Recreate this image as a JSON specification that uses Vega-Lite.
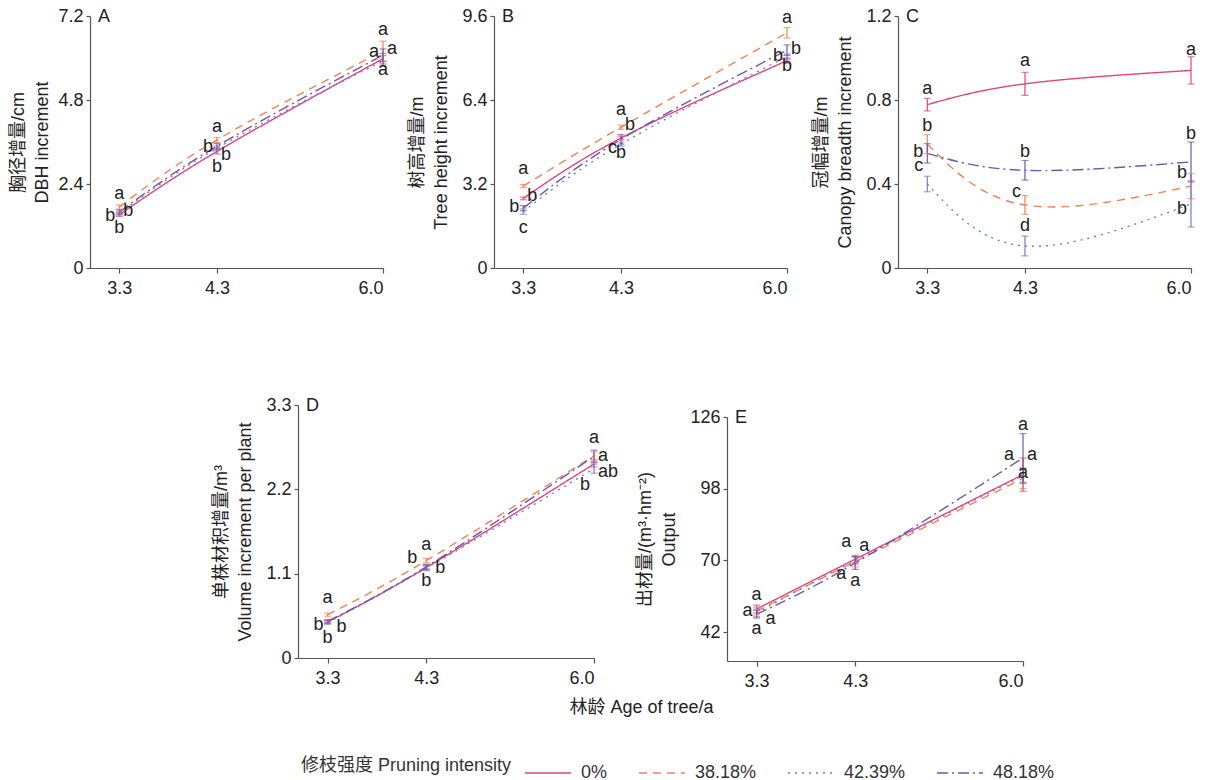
{
"$schema":"https://vega.github.io/schema/vega-lite/v6.json",
"padding":{"left":9,"top":7,"right":5,"bottom":0},
"background":"white",
"config":{
 "view":{"stroke":null},
 "axis":{"domainColor":"#555","tickColor":"#555","domainWidth":1.2,"tickWidth":1.2,"tickSize":4,"labelFont":"Liberation Sans","labelFontSize":18,"labelColor":"#222","labelPadding":3,"titleFont":"Liberation Sans, Noto Sans CJK SC","titleFontSize":18,"titleFontWeight":"normal","titleColor":"#222","grid":false,"titlePadding":11,"titleLineHeight":24},
 "axisX":{"labelPadding":6,"tickSize":5},
 "title":{"anchor":"start","frame":"group","offset":-19,"dx":8,"baseline":"middle","fontSize":18,"fontWeight":"normal","font":"Liberation Sans","color":"#222"},
 "text":{"font":"Liberation Sans","fontSize":18,"color":"#222","baseline":"middle"},
 "line":{"interpolate":"natural","strokeWidth":1.4},
 "rule":{"strokeWidth":1.2},
 "tick":{"orient":"horizontal","size":7,"thickness":1.2}
},
"datasets":{
 "pts":[
  {"panel":"A","age":3.3,"group":"0%","mean":1.52,"lo":1.47,"hi":1.57},
  {"panel":"A","age":3.3,"group":"38.18%","mean":1.74,"lo":1.68,"hi":1.80},
  {"panel":"A","age":3.3,"group":"42.39%","mean":1.56,"lo":1.51,"hi":1.61},
  {"panel":"A","age":3.3,"group":"48.18%","mean":1.60,"lo":1.54,"hi":1.66},
  {"panel":"A","age":4.3,"group":"0%","mean":3.33,"lo":3.26,"hi":3.40},
  {"panel":"A","age":4.3,"group":"38.18%","mean":3.66,"lo":3.59,"hi":3.73},
  {"panel":"A","age":4.3,"group":"42.39%","mean":3.42,"lo":3.35,"hi":3.49},
  {"panel":"A","age":4.3,"group":"48.18%","mean":3.48,"lo":3.40,"hi":3.56},
  {"panel":"A","age":6.0,"group":"0%","mean":5.98,"lo":5.83,"hi":6.13},
  {"panel":"A","age":6.0,"group":"38.18%","mean":6.20,"lo":5.92,"hi":6.48},
  {"panel":"A","age":6.0,"group":"42.39%","mean":5.92,"lo":5.77,"hi":6.07},
  {"panel":"A","age":6.0,"group":"48.18%","mean":6.08,"lo":5.90,"hi":6.26},
  {"panel":"B","age":3.3,"group":"0%","mean":2.65,"lo":2.60,"hi":2.70},
  {"panel":"B","age":3.3,"group":"38.18%","mean":3.12,"lo":3.06,"hi":3.18},
  {"panel":"B","age":3.3,"group":"42.39%","mean":2.15,"lo":2.05,"hi":2.25},
  {"panel":"B","age":3.3,"group":"48.18%","mean":2.28,"lo":2.18,"hi":2.38},
  {"panel":"B","age":4.3,"group":"0%","mean":4.95,"lo":4.88,"hi":5.02},
  {"panel":"B","age":4.3,"group":"38.18%","mean":5.36,"lo":5.28,"hi":5.44},
  {"panel":"B","age":4.3,"group":"42.39%","mean":4.72,"lo":4.64,"hi":4.80},
  {"panel":"B","age":4.3,"group":"48.18%","mean":4.90,"lo":4.72,"hi":5.08},
  {"panel":"B","age":6.0,"group":"0%","mean":7.90,"lo":7.80,"hi":8.00},
  {"panel":"B","age":6.0,"group":"38.18%","mean":8.96,"lo":8.76,"hi":9.16},
  {"panel":"B","age":6.0,"group":"42.39%","mean":8.05,"lo":7.95,"hi":8.15},
  {"panel":"B","age":6.0,"group":"48.18%","mean":8.30,"lo":8.10,"hi":8.50},
  {"panel":"C","age":3.3,"group":"0%","mean":0.778,"lo":0.748,"hi":0.808},
  {"panel":"C","age":3.3,"group":"38.18%","mean":0.59,"lo":0.545,"hi":0.635},
  {"panel":"C","age":3.3,"group":"42.39%","mean":0.40,"lo":0.363,"hi":0.437},
  {"panel":"C","age":3.3,"group":"48.18%","mean":0.546,"lo":0.50,"hi":0.592},
  {"panel":"C","age":4.3,"group":"0%","mean":0.877,"lo":0.822,"hi":0.932},
  {"panel":"C","age":4.3,"group":"38.18%","mean":0.30,"lo":0.255,"hi":0.345},
  {"panel":"C","age":4.3,"group":"42.39%","mean":0.105,"lo":0.058,"hi":0.152},
  {"panel":"C","age":4.3,"group":"48.18%","mean":0.465,"lo":0.418,"hi":0.512},
  {"panel":"C","age":6.0,"group":"0%","mean":0.941,"lo":0.876,"hi":1.006},
  {"panel":"C","age":6.0,"group":"38.18%","mean":0.39,"lo":0.33,"hi":0.45},
  {"panel":"C","age":6.0,"group":"42.39%","mean":0.305,"lo":0.195,"hi":0.415},
  {"panel":"C","age":6.0,"group":"48.18%","mean":0.505,"lo":0.41,"hi":0.60},
  {"panel":"D","age":3.3,"group":"0%","mean":0.47,"lo":0.45,"hi":0.49},
  {"panel":"D","age":3.3,"group":"38.18%","mean":0.565,"lo":0.545,"hi":0.585},
  {"panel":"D","age":3.3,"group":"42.39%","mean":0.46,"lo":0.44,"hi":0.48},
  {"panel":"D","age":3.3,"group":"48.18%","mean":0.48,"lo":0.46,"hi":0.50},
  {"panel":"D","age":4.3,"group":"0%","mean":1.18,"lo":1.15,"hi":1.21},
  {"panel":"D","age":4.3,"group":"38.18%","mean":1.27,"lo":1.24,"hi":1.30},
  {"panel":"D","age":4.3,"group":"42.39%","mean":1.17,"lo":1.14,"hi":1.20},
  {"panel":"D","age":4.3,"group":"48.18%","mean":1.19,"lo":1.16,"hi":1.22},
  {"panel":"D","age":6.0,"group":"0%","mean":2.53,"lo":2.49,"hi":2.57},
  {"panel":"D","age":6.0,"group":"38.18%","mean":2.64,"lo":2.59,"hi":2.69},
  {"panel":"D","age":6.0,"group":"42.39%","mean":2.47,"lo":2.41,"hi":2.53},
  {"panel":"D","age":6.0,"group":"48.18%","mean":2.63,"lo":2.55,"hi":2.71},
  {"panel":"E","age":3.3,"group":"0%","mean":51.0,"lo":49.5,"hi":52.5},
  {"panel":"E","age":3.3,"group":"38.18%","mean":50.2,"lo":48.7,"hi":51.7},
  {"panel":"E","age":3.3,"group":"42.39%","mean":49.5,"lo":48.0,"hi":51.0},
  {"panel":"E","age":3.3,"group":"48.18%","mean":49.0,"lo":47.5,"hi":50.5},
  {"panel":"E","age":4.3,"group":"0%","mean":70.5,"lo":69.0,"hi":72.0},
  {"panel":"E","age":4.3,"group":"38.18%","mean":69.5,"lo":67.5,"hi":71.5},
  {"panel":"E","age":4.3,"group":"42.39%","mean":70.0,"lo":68.5,"hi":71.5},
  {"panel":"E","age":4.3,"group":"48.18%","mean":69.0,"lo":66.5,"hi":71.5},
  {"panel":"E","age":6.0,"group":"0%","mean":103.5,"lo":97.0,"hi":110.0},
  {"panel":"E","age":6.0,"group":"38.18%","mean":102.0,"lo":98.0,"hi":106.0},
  {"panel":"E","age":6.0,"group":"42.39%","mean":103.0,"lo":100.0,"hi":106.0},
  {"panel":"E","age":6.0,"group":"48.18%","mean":110.0,"lo":100.5,"hi":119.5}
 ],
 "lbl":[
  {"panel":"A","age":3.3,"label":"a","ly":2.11,"side":"c"},
  {"panel":"A","age":3.3,"label":"b","ly":1.49,"side":"l"},
  {"panel":"A","age":3.3,"label":"b","ly":1.62,"side":"r"},
  {"panel":"A","age":3.3,"label":"b","ly":1.14,"side":"c"},
  {"panel":"A","age":4.3,"label":"a","ly":4.04,"side":"c"},
  {"panel":"A","age":4.3,"label":"b","ly":3.47,"side":"l"},
  {"panel":"A","age":4.3,"label":"b","ly":3.23,"side":"r"},
  {"panel":"A","age":4.3,"label":"b","ly":2.90,"side":"c"},
  {"panel":"A","age":6.0,"label":"a","ly":6.80,"side":"c"},
  {"panel":"A","age":6.0,"label":"a","ly":6.18,"side":"l"},
  {"panel":"A","age":6.0,"label":"a","ly":6.25,"side":"r"},
  {"panel":"A","age":6.0,"label":"a","ly":5.66,"side":"c"},
  {"panel":"B","age":3.3,"label":"a","ly":3.76,"side":"c"},
  {"panel":"B","age":3.3,"label":"b","ly":2.73,"side":"r"},
  {"panel":"B","age":3.3,"label":"b","ly":2.31,"side":"l"},
  {"panel":"B","age":3.3,"label":"c","ly":1.54,"side":"c"},
  {"panel":"B","age":4.3,"label":"a","ly":6.01,"side":"c"},
  {"panel":"B","age":4.3,"label":"b","ly":5.43,"side":"r"},
  {"panel":"B","age":4.3,"label":"c","ly":4.59,"side":"l"},
  {"panel":"B","age":4.3,"label":"b","ly":4.40,"side":"c"},
  {"panel":"B","age":6.0,"label":"a","ly":9.53,"side":"c"},
  {"panel":"B","age":6.0,"label":"b","ly":8.34,"side":"r"},
  {"panel":"B","age":6.0,"label":"b","ly":8.06,"side":"l"},
  {"panel":"B","age":6.0,"label":"b","ly":7.68,"side":"c"},
  {"panel":"C","age":3.3,"label":"a","ly":0.854,"side":"c"},
  {"panel":"C","age":3.3,"label":"b","ly":0.678,"side":"c"},
  {"panel":"C","age":3.3,"label":"b","ly":0.554,"side":"l"},
  {"panel":"C","age":3.3,"label":"c","ly":0.487,"side":"l"},
  {"panel":"C","age":4.3,"label":"a","ly":0.987,"side":"c"},
  {"panel":"C","age":4.3,"label":"b","ly":0.554,"side":"c"},
  {"panel":"C","age":4.3,"label":"c","ly":0.363,"side":"l"},
  {"panel":"C","age":4.3,"label":"d","ly":0.201,"side":"c"},
  {"panel":"C","age":6.0,"label":"a","ly":1.04,"side":"c"},
  {"panel":"C","age":6.0,"label":"b","ly":0.64,"side":"c"},
  {"panel":"C","age":6.0,"label":"b","ly":0.454,"side":"l"},
  {"panel":"C","age":6.0,"label":"b","ly":0.282,"side":"l"},
  {"panel":"D","age":3.3,"label":"a","ly":0.78,"side":"c"},
  {"panel":"D","age":3.3,"label":"b","ly":0.43,"side":"l"},
  {"panel":"D","age":3.3,"label":"b","ly":0.40,"side":"R"},
  {"panel":"D","age":3.3,"label":"b","ly":0.26,"side":"c"},
  {"panel":"D","age":4.3,"label":"a","ly":1.48,"side":"c"},
  {"panel":"D","age":4.3,"label":"b","ly":1.30,"side":"L"},
  {"panel":"D","age":4.3,"label":"b","ly":1.17,"side":"R"},
  {"panel":"D","age":4.3,"label":"b","ly":1.01,"side":"c"},
  {"panel":"D","age":6.0,"label":"a","ly":2.87,"side":"c"},
  {"panel":"D","age":6.0,"label":"a","ly":2.63,"side":"r"},
  {"panel":"D","age":6.0,"label":"ab","ly":2.43,"side":"r"},
  {"panel":"D","age":6.0,"label":"b","ly":2.26,"side":"l"},
  {"panel":"E","age":3.3,"label":"a","ly":56.3,"side":"c"},
  {"panel":"E","age":3.3,"label":"a","ly":50.2,"side":"l"},
  {"panel":"E","age":3.3,"label":"a","ly":47.0,"side":"R"},
  {"panel":"E","age":3.3,"label":"a","ly":43.3,"side":"c"},
  {"panel":"E","age":4.3,"label":"a","ly":77.2,"side":"l"},
  {"panel":"E","age":4.3,"label":"a","ly":75.6,"side":"r"},
  {"panel":"E","age":4.3,"label":"a","ly":64.5,"side":"L"},
  {"panel":"E","age":4.3,"label":"a","ly":61.8,"side":"c"},
  {"panel":"E","age":6.0,"label":"a","ly":122.8,"side":"c"},
  {"panel":"E","age":6.0,"label":"a","ly":111.1,"side":"L"},
  {"panel":"E","age":6.0,"label":"a","ly":111.1,"side":"r"},
  {"panel":"E","age":6.0,"label":"a","ly":104.0,"side":"c"}
 ]
},
"resolve":{"scale":{"color":"shared","strokeDash":"shared"},"legend":{"color":"shared","strokeDash":"shared"}},
"columns":1,
"align":"all",
"spacing":69,
"concat":[
 {"hconcat":[
  {"width":293,"height":252,"title":{"text":"A"},
   "layer":[
    {"data":{"name":"pts"},"transform":[{"filter":"datum.panel==='A'"}],"mark":{"type":"line"},
     "encoding":{
      "x":{"field":"age","type":"quantitative","scale":{"domain":[3,6],"nice":false,"zero":false},"axis":{"values":[3.3,4.3,6.0],"format":".1f","title":null}},
      "y":{"field":"mean","type":"quantitative","scale":{"domain":[0,7.2],"nice":false},"axis":{"values":[0,2.4,4.8,7.2],"format":".1~f","titlePadding":6,"title":["胸径增量/cm","DBH increment"]}},
      "color":{"field":"group","type":"nominal","title":"修枝强度 Pruning intensity","scale":{"domain":["0%","38.18%","42.39%","48.18%"],"range":["#e0457b","#ef8354","#6f80c6","#7256a8"]},
        "legend":{"orient":"none","legendX":211,"legendY":733,"direction":"horizontal","columns":4,"titleOrient":"left","titleAnchor":"middle","titleBaseline":"middle","titleLimit":400,"labelLimit":200,"symbolType":"stroke","symbolSize":2116,"symbolStrokeWidth":2,"labelOffset":9,"columnPadding":28,"titlePadding":12,"titleFontSize":18,"titleFontWeight":"normal","titleFont":"Liberation Sans, Noto Sans CJK SC","titleColor":"#333","labelFont":"Liberation Sans","labelFontSize":18,"labelColor":"#333"}},
      "strokeDash":{"field":"group","type":"nominal","title":"修枝强度 Pruning intensity","scale":{"domain":["0%","38.18%","42.39%","48.18%"],"range":[[1,0],[8,6],[2,5],[11,4,2,4]]},
        "legend":{"orient":"none","legendX":211,"legendY":733,"direction":"horizontal","columns":4,"titleOrient":"left","titleAnchor":"middle","titleBaseline":"middle","titleLimit":400,"labelLimit":200,"symbolType":"stroke","symbolSize":2116,"symbolStrokeWidth":2,"labelOffset":9,"columnPadding":28,"titlePadding":12,"titleFontSize":18,"titleFontWeight":"normal","titleFont":"Liberation Sans, Noto Sans CJK SC","titleColor":"#333","labelFont":"Liberation Sans","labelFontSize":18,"labelColor":"#333"}}
     }},
    {"data":{"name":"pts"},"transform":[{"filter":"datum.panel==='A'"}],"mark":{"type":"rule"},
     "encoding":{"x":{"field":"age","type":"quantitative"},"y":{"field":"lo","type":"quantitative"},"y2":{"field":"hi"},"color":{"field":"group","type":"nominal","title":"修枝强度 Pruning intensity"}}},
    {"data":{"name":"pts"},"transform":[{"filter":"datum.panel==='A'"}],"mark":{"type":"tick"},
     "encoding":{"x":{"field":"age","type":"quantitative"},"y":{"field":"lo","type":"quantitative"},"color":{"field":"group","type":"nominal","title":"修枝强度 Pruning intensity"}}},
    {"data":{"name":"pts"},"transform":[{"filter":"datum.panel==='A'"}],"mark":{"type":"tick"},
     "encoding":{"x":{"field":"age","type":"quantitative"},"y":{"field":"hi","type":"quantitative"},"color":{"field":"group","type":"nominal","title":"修枝强度 Pruning intensity"}}},
    {"data":{"name":"lbl"},"transform":[{"filter":"datum.panel==='A' && datum.side==='c'"}],"mark":{"type":"text","align":"center"},
     "encoding":{"x":{"field":"age","type":"quantitative"},"y":{"field":"ly","type":"quantitative"},"text":{"field":"label"}}},
    {"data":{"name":"lbl"},"transform":[{"filter":"datum.panel==='A' && datum.side==='l'"}],"mark":{"type":"text","align":"right","dx":-4},
     "encoding":{"x":{"field":"age","type":"quantitative"},"y":{"field":"ly","type":"quantitative"},"text":{"field":"label"}}},
    {"data":{"name":"lbl"},"transform":[{"filter":"datum.panel==='A' && datum.side==='r'"}],"mark":{"type":"text","align":"left","dx":4},
     "encoding":{"x":{"field":"age","type":"quantitative"},"y":{"field":"ly","type":"quantitative"},"text":{"field":"label"}}}
   ]},
  {"width":293,"height":252,"title":{"text":"B"},
   "layer":[
    {"data":{"name":"pts"},"transform":[{"filter":"datum.panel==='B'"}],"mark":{"type":"line"},
     "encoding":{
      "x":{"field":"age","type":"quantitative","scale":{"domain":[3,6],"nice":false,"zero":false},"axis":{"values":[3.3,4.3,6.0],"format":".1f","title":null}},
      "y":{"field":"mean","type":"quantitative","scale":{"domain":[0,9.6],"nice":false},"axis":{"values":[0,3.2,6.4,9.6],"format":".1~f","title":["树高增量/m","Tree height increment"]}},
      "color":{"field":"group","type":"nominal","title":"修枝强度 Pruning intensity"},
      "strokeDash":{"field":"group","type":"nominal","title":"修枝强度 Pruning intensity"}
     }},
    {"data":{"name":"pts"},"transform":[{"filter":"datum.panel==='B'"}],"mark":{"type":"rule"},
     "encoding":{"x":{"field":"age","type":"quantitative"},"y":{"field":"lo","type":"quantitative"},"y2":{"field":"hi"},"color":{"field":"group","type":"nominal","title":"修枝强度 Pruning intensity"}}},
    {"data":{"name":"pts"},"transform":[{"filter":"datum.panel==='B'"}],"mark":{"type":"tick"},
     "encoding":{"x":{"field":"age","type":"quantitative"},"y":{"field":"lo","type":"quantitative"},"color":{"field":"group","type":"nominal","title":"修枝强度 Pruning intensity"}}},
    {"data":{"name":"pts"},"transform":[{"filter":"datum.panel==='B'"}],"mark":{"type":"tick"},
     "encoding":{"x":{"field":"age","type":"quantitative"},"y":{"field":"hi","type":"quantitative"},"color":{"field":"group","type":"nominal","title":"修枝强度 Pruning intensity"}}},
    {"data":{"name":"lbl"},"transform":[{"filter":"datum.panel==='B' && datum.side==='c'"}],"mark":{"type":"text","align":"center"},
     "encoding":{"x":{"field":"age","type":"quantitative"},"y":{"field":"ly","type":"quantitative"},"text":{"field":"label"}}},
    {"data":{"name":"lbl"},"transform":[{"filter":"datum.panel==='B' && datum.side==='l'"}],"mark":{"type":"text","align":"right","dx":-4},
     "encoding":{"x":{"field":"age","type":"quantitative"},"y":{"field":"ly","type":"quantitative"},"text":{"field":"label"}}},
    {"data":{"name":"lbl"},"transform":[{"filter":"datum.panel==='B' && datum.side==='r'"}],"mark":{"type":"text","align":"left","dx":4},
     "encoding":{"x":{"field":"age","type":"quantitative"},"y":{"field":"ly","type":"quantitative"},"text":{"field":"label"}}}
   ]},
  {"width":293,"height":252,"title":{"text":"C"},
   "layer":[
    {"data":{"name":"pts"},"transform":[{"filter":"datum.panel==='C'"}],"mark":{"type":"line"},
     "encoding":{
      "x":{"field":"age","type":"quantitative","scale":{"domain":[3,6],"nice":false,"zero":false},"axis":{"values":[3.3,4.3,6.0],"format":".1f","title":null}},
      "y":{"field":"mean","type":"quantitative","scale":{"domain":[0,1.2],"nice":false},"axis":{"values":[0,0.4,0.8,1.2],"format":".1~f","title":["冠幅增量/m","Canopy breadth increment"]}},
      "color":{"field":"group","type":"nominal","title":"修枝强度 Pruning intensity"},
      "strokeDash":{"field":"group","type":"nominal","title":"修枝强度 Pruning intensity"}
     }},
    {"data":{"name":"pts"},"transform":[{"filter":"datum.panel==='C'"}],"mark":{"type":"rule"},
     "encoding":{"x":{"field":"age","type":"quantitative"},"y":{"field":"lo","type":"quantitative"},"y2":{"field":"hi"},"color":{"field":"group","type":"nominal","title":"修枝强度 Pruning intensity"}}},
    {"data":{"name":"pts"},"transform":[{"filter":"datum.panel==='C'"}],"mark":{"type":"tick"},
     "encoding":{"x":{"field":"age","type":"quantitative"},"y":{"field":"lo","type":"quantitative"},"color":{"field":"group","type":"nominal","title":"修枝强度 Pruning intensity"}}},
    {"data":{"name":"pts"},"transform":[{"filter":"datum.panel==='C'"}],"mark":{"type":"tick"},
     "encoding":{"x":{"field":"age","type":"quantitative"},"y":{"field":"hi","type":"quantitative"},"color":{"field":"group","type":"nominal","title":"修枝强度 Pruning intensity"}}},
    {"data":{"name":"lbl"},"transform":[{"filter":"datum.panel==='C' && datum.side==='c'"}],"mark":{"type":"text","align":"center"},
     "encoding":{"x":{"field":"age","type":"quantitative"},"y":{"field":"ly","type":"quantitative"},"text":{"field":"label"}}},
    {"data":{"name":"lbl"},"transform":[{"filter":"datum.panel==='C' && datum.side==='l'"}],"mark":{"type":"text","align":"right","dx":-4},
     "encoding":{"x":{"field":"age","type":"quantitative"},"y":{"field":"ly","type":"quantitative"},"text":{"field":"label"}}}
   ]}
 ],"spacing":111,"bounds":"flush"},
 {"hconcat":[
  {"width":75,"height":10,"data":{"values":[{"s":1}]},"mark":{"type":"text"},"encoding":{"text":{"value":""}}},
  {"width":296,"height":253,"title":{"text":"D"},
   "layer":[
    {"data":{"name":"pts"},"transform":[{"filter":"datum.panel==='D'"}],"mark":{"type":"line"},
     "encoding":{
      "x":{"field":"age","type":"quantitative","scale":{"domain":[3,6],"nice":false,"zero":false},"axis":{"values":[3.3,4.3,6.0],"format":".1f","title":"林龄 Age of tree/a","titleX":343,"titleY":49,"titleBaseline":"middle","titleAlign":"center"}},
      "y":{"field":"mean","type":"quantitative","scale":{"domain":[0,3.3],"nice":false},"axis":{"values":[0,1.1,2.2,3.3],"format":".1~f","title":["单株材积增量/m³","Volume increment per plant"]}},
      "color":{"field":"group","type":"nominal","title":"修枝强度 Pruning intensity"},
      "strokeDash":{"field":"group","type":"nominal","title":"修枝强度 Pruning intensity"}
     }},
    {"data":{"name":"pts"},"transform":[{"filter":"datum.panel==='D'"}],"mark":{"type":"rule"},
     "encoding":{"x":{"field":"age","type":"quantitative"},"y":{"field":"lo","type":"quantitative"},"y2":{"field":"hi"},"color":{"field":"group","type":"nominal","title":"修枝强度 Pruning intensity"}}},
    {"data":{"name":"pts"},"transform":[{"filter":"datum.panel==='D'"}],"mark":{"type":"tick"},
     "encoding":{"x":{"field":"age","type":"quantitative"},"y":{"field":"lo","type":"quantitative"},"color":{"field":"group","type":"nominal","title":"修枝强度 Pruning intensity"}}},
    {"data":{"name":"pts"},"transform":[{"filter":"datum.panel==='D'"}],"mark":{"type":"tick"},
     "encoding":{"x":{"field":"age","type":"quantitative"},"y":{"field":"hi","type":"quantitative"},"color":{"field":"group","type":"nominal","title":"修枝强度 Pruning intensity"}}},
    {"data":{"name":"lbl"},"transform":[{"filter":"datum.panel==='D' && datum.side==='c'"}],"mark":{"type":"text","align":"center"},
     "encoding":{"x":{"field":"age","type":"quantitative"},"y":{"field":"ly","type":"quantitative"},"text":{"field":"label"}}},
    {"data":{"name":"lbl"},"transform":[{"filter":"datum.panel==='D' && datum.side==='l'"}],"mark":{"type":"text","align":"right","dx":-4},
     "encoding":{"x":{"field":"age","type":"quantitative"},"y":{"field":"ly","type":"quantitative"},"text":{"field":"label"}}},
    {"data":{"name":"lbl"},"transform":[{"filter":"datum.panel==='D' && datum.side==='r'"}],"mark":{"type":"text","align":"left","dx":4},
     "encoding":{"x":{"field":"age","type":"quantitative"},"y":{"field":"ly","type":"quantitative"},"text":{"field":"label"}}},
    {"data":{"name":"lbl"},"transform":[{"filter":"datum.panel==='D' && datum.side==='L'"}],"mark":{"type":"text","align":"right","dx":-9},
     "encoding":{"x":{"field":"age","type":"quantitative"},"y":{"field":"ly","type":"quantitative"},"text":{"field":"label"}}},
    {"data":{"name":"lbl"},"transform":[{"filter":"datum.panel==='D' && datum.side==='R'"}],"mark":{"type":"text","align":"left","dx":9},
     "encoding":{"x":{"field":"age","type":"quantitative"},"y":{"field":"ly","type":"quantitative"},"text":{"field":"label"}}}
   ]},
  {"vconcat":[
   {"width":20,"height":12,"data":{"values":[{"s":1}]},"mark":{"type":"text"},"encoding":{"text":{"value":""}}},
   {"width":296,"height":244,"title":{"text":"E"},
    "layer":[
     {"data":{"name":"pts"},"transform":[{"filter":"datum.panel==='E'"}],"mark":{"type":"line"},
      "encoding":{
       "x":{"field":"age","type":"quantitative","scale":{"domain":[3,6],"nice":false,"zero":false},"axis":{"values":[3.3,4.3,6.0],"format":".1f","title":null}},
       "y":{"field":"mean","type":"quantitative","scale":{"domain":[30.7,126],"nice":false,"zero":false},"axis":{"values":[42,70,98,126],"format":"d","title":["出材量/(m³·hm⁻²)","Output"]}},
       "color":{"field":"group","type":"nominal","title":"修枝强度 Pruning intensity"},
       "strokeDash":{"field":"group","type":"nominal","title":"修枝强度 Pruning intensity"}
      }},
     {"data":{"name":"pts"},"transform":[{"filter":"datum.panel==='E'"}],"mark":{"type":"rule"},
      "encoding":{"x":{"field":"age","type":"quantitative"},"y":{"field":"lo","type":"quantitative"},"y2":{"field":"hi"},"color":{"field":"group","type":"nominal","title":"修枝强度 Pruning intensity"}}},
     {"data":{"name":"pts"},"transform":[{"filter":"datum.panel==='E'"}],"mark":{"type":"tick"},
      "encoding":{"x":{"field":"age","type":"quantitative"},"y":{"field":"lo","type":"quantitative"},"color":{"field":"group","type":"nominal","title":"修枝强度 Pruning intensity"}}},
     {"data":{"name":"pts"},"transform":[{"filter":"datum.panel==='E'"}],"mark":{"type":"tick"},
      "encoding":{"x":{"field":"age","type":"quantitative"},"y":{"field":"hi","type":"quantitative"},"color":{"field":"group","type":"nominal","title":"修枝强度 Pruning intensity"}}},
     {"data":{"name":"lbl"},"transform":[{"filter":"datum.panel==='E' && datum.side==='c'"}],"mark":{"type":"text","align":"center"},
      "encoding":{"x":{"field":"age","type":"quantitative"},"y":{"field":"ly","type":"quantitative"},"text":{"field":"label"}}},
     {"data":{"name":"lbl"},"transform":[{"filter":"datum.panel==='E' && datum.side==='l'"}],"mark":{"type":"text","align":"right","dx":-4},
      "encoding":{"x":{"field":"age","type":"quantitative"},"y":{"field":"ly","type":"quantitative"},"text":{"field":"label"}}},
     {"data":{"name":"lbl"},"transform":[{"filter":"datum.panel==='E' && datum.side==='r'"}],"mark":{"type":"text","align":"left","dx":4},
      "encoding":{"x":{"field":"age","type":"quantitative"},"y":{"field":"ly","type":"quantitative"},"text":{"field":"label"}}},
     {"data":{"name":"lbl"},"transform":[{"filter":"datum.panel==='E' && datum.side==='L'"}],"mark":{"type":"text","align":"right","dx":-9},
      "encoding":{"x":{"field":"age","type":"quantitative"},"y":{"field":"ly","type":"quantitative"},"text":{"field":"label"}}},
     {"data":{"name":"lbl"},"transform":[{"filter":"datum.panel==='E' && datum.side==='R'"}],"mark":{"type":"text","align":"left","dx":9},
      "encoding":{"x":{"field":"age","type":"quantitative"},"y":{"field":"ly","type":"quantitative"},"text":{"field":"label"}}}
    ]}
  ],"spacing":0,"bounds":"flush"}
 ],"spacing":133,"bounds":"flush"}
]
}
